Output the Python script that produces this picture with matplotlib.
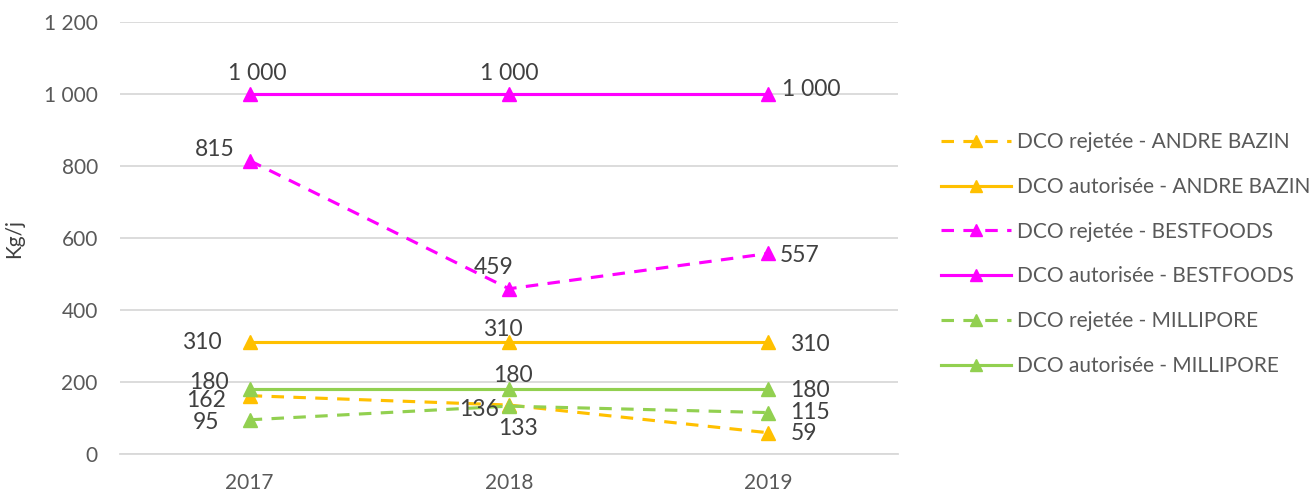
import matplotlib
matplotlib.use("Agg")
import matplotlib.pyplot as plt

plt.rcParams['font.family'] = ['Lato', 'DejaVu Sans']

years = ['2017', '2018', '2019']
series_names = [
    'DCO rejetée - ANDRE BAZIN',
    'DCO autorisée - ANDRE BAZIN',
    'DCO rejetée - BESTFOODS',
    'DCO autorisée - BESTFOODS',
    'DCO rejetée - MILLIPORE',
    'DCO autorisée - MILLIPORE',
]
rejet_andre_bazin = [162, 136, 59]
autor_andre_bazin = [310, 310, 310]
rejet_bestfoods = [815, 459, 557]
autor_bestfoods = [1000, 1000, 1000]
rejet_millipore = [95, 133, 115]
autor_millipore = [180, 180, 180]
y_ticks = [0, 200, 400, 600, 800, 1000, 1200]

orange = '#FFC000'
magenta = '#FF00FF'
green = '#92D050'
series = [
    (rejet_andre_bazin, orange, True),
    (autor_andre_bazin, orange, False),
    (rejet_bestfoods, magenta, True),
    (autor_bestfoods, magenta, False),
    (rejet_millipore, green, True),
    (autor_millipore, green, False),
]

# label offsets in pixels (dx, dy up), horizontal alignment, per series and year
label_pos = [
    [(-24, -5, 'right'), (-10, -4, 'right'), (22, -1, 'left')],
    [(-28, 0, 'right'), (-6, 13, 'center'), (22, -2, 'left')],
    [(-15, 11, 'right'), (-15, 21, 'center'), (11, -2, 'left')],
    [(8, 20, 'center'), (0, 20, 'center'), (14, 5, 'left')],
    [(-30, -3, 'right'), (9, -22, 'center'), (22, 0, 'left')],
    [(-21, 7, 'right'), (4, 14, 'center'), (22, -1, 'left')],
]


def fmt(v):
    return f'{v:,}'.replace(',', ' ')


fig = plt.figure(figsize=(13.1, 4.95), dpi=100)
ax = fig.add_axes([120 / 1310, 1 - 454 / 495, 778 / 1310, 432 / 495])

x = list(range(len(years)))
for (vals, color, dashed), name, offs in zip(series, series_names, label_pos):
    ls = (0, (4, 3)) if dashed else '-'
    ax.plot(x, vals, color=color, linestyle=ls, linewidth=2.25,
            marker='^', markersize=10, label=name, zorder=3)
    for xi, v, (dx, dy, ha) in zip(x, vals, offs):
        ax.annotate(fmt(v), (xi, v), xytext=(dx * 0.72, dy * 0.72),
                    textcoords='offset points', ha=ha, va='center',
                    fontsize=16.5, color='#404040', zorder=4)

ax.set_xlim(-0.5, 2.5)
ax.set_ylim(0, 1200)
ax.set_xticks(x)
ax.set_xticklabels(years)
ax.set_yticks(y_ticks)
ax.set_yticklabels([fmt(t) for t in y_ticks])
ax.tick_params(length=0, labelsize=15, colors='#595959')
ax.tick_params(axis='y', pad=16)
ax.tick_params(axis='x', pad=14)
ax.grid(axis='y', color='#D9D9D9', linewidth=1.3)
ax.set_axisbelow(True)
for s in ['top', 'right', 'left']:
    ax.spines[s].set_visible(False)
ax.spines['bottom'].set_color('#D9D9D9')
ax.spines['bottom'].set_linewidth(1.3)
ax.set_ylabel('Kg/j', fontsize=15, color='#404040', labelpad=14)

leg = fig.legend(loc='center left', bbox_to_anchor=(0.704, 1 - 254 / 495),
                 frameon=False, fontsize=15, handlelength=3.36,
                 labelspacing=1.19, handletextpad=0.3, numpoints=1)
for t in leg.get_texts():
    t.set_color('#595959')
for h in leg.legend_handles:
    h.set_markersize(8)

fig.savefig('out.png', dpi=100)
